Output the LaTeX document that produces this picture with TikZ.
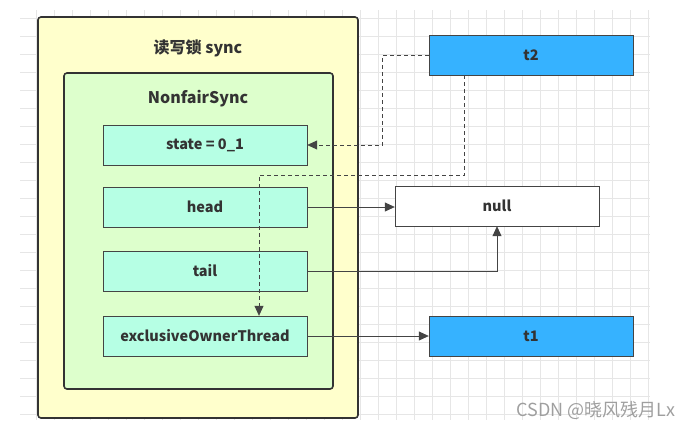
\documentclass[tikz,border=0pt]{standalone}
\usepackage{fontspec}
\setmainfont{Noto Sans CJK SC}
\usetikzlibrary{arrows.meta}
\definecolor{lockyellow}{HTML}{FFFFCC}
\definecolor{syncgreen}{HTML}{DDFFCC}
\definecolor{fieldmint}{HTML}{B6FFE4}
\definecolor{threadblue}{HTML}{36B2FF}
\definecolor{linegray}{HTML}{444444}
\definecolor{textgray}{HTML}{333333}
\definecolor{gridgray}{HTML}{E6E6E6}
\tikzset{
  lockbox/.style={draw=textgray, line width=1.6pt, rounded corners=3pt, fill=lockyellow},
  syncbox/.style={draw=textgray, line width=1.6pt, rounded corners=3pt, fill=syncgreen},
  field/.style={draw=linegray, fill=fieldmint, minimum width=204pt, minimum height=40pt,
    inner sep=0pt, font=\fontsize{14.5}{16}\selectfont\bfseries, text=textgray},
  thread/.style={field, fill=threadblue},
  nullbox/.style={field, fill=white},
  title/.style={font=\fontsize{16}{18}\selectfont\bfseries, text=textgray},
  ref/.style={draw=linegray, line width=0.8pt, -{Triangle[length=10pt,width=9pt]}},
  weakref/.style={ref, dash pattern=on 4pt off 3pt}
}
\begin{document}
\begin{tikzpicture}[x=1pt,y=-1pt]
\useasboundingbox (0,0) rectangle (692,428);
\draw[gridgray, step=18pt] (20,10) grid (650,420);
\node[lockbox, minimum width=320pt, minimum height=401pt] (sync) at (198,217.5) {};
\node[title] (synctitle) at (198,48) {读写锁 sync};
\node[syncbox, minimum width=269pt, minimum height=316pt] (nonfair) at (198.5,231) {};
\node[title] (nonfairtitle) at (198,99) {NonfairSync};
\node[field] (state) at (205,145) {state = 0\_1};
\node[field] (head) at (205,207) {head};
\node[field] (tail) at (205,271) {tail};
\node[field] (eot) at (205,336) {exclusiveOwnerThread};
\node[thread] (t2) at (531,55) {t2};
\node[nullbox] (null) at (497,206) {null};
\node[thread] (t1) at (531,336) {t1};
\draw[weakref] (t2.west) -- ++(-46,0) |- (state.east);
\draw[weakref] ([xshift=36pt]t2.south west) -- ++(0,100) -| ([xshift=54pt]eot.north);
\draw[ref] (head.east) -- (head.east -| null.west);
\draw[ref] (tail.east) -| (null.south);
\draw[ref] (eot.east) -- (t1.west);
\node[anchor=east, text=gray!75, font=\fontsize{18}{20}\selectfont] (mark) at (679,410) {CSDN @晓风残月Lx};
\end{tikzpicture}
\end{document}
